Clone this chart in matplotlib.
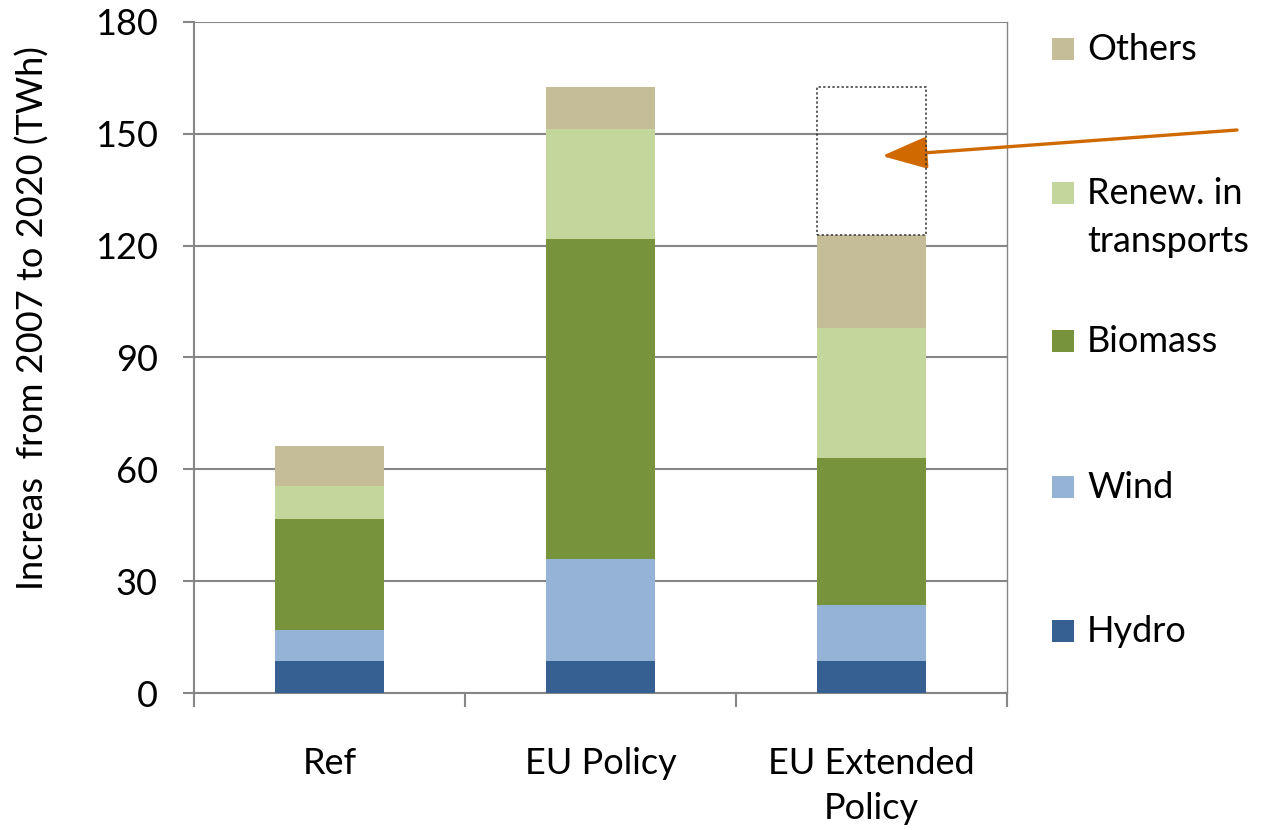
import matplotlib
matplotlib.use('Agg')
import matplotlib.pyplot as plt
from matplotlib.patches import Rectangle
import numpy as np

plt.rcParams['font.family'] = ['Lato', 'DejaVu Sans']

# data (TWh increase 2007 -> 2020)
scenarios = ['Ref', 'EU Policy', 'EU Extended\nPolicy']
hydro = [8.7, 8.7, 8.6]
wind = [8.1, 27.2, 14.9]
biomass = [29.8, 85.8, 39.5]
renew_transport = [8.9, 29.5, 35.0]
others = [10.8, 11.4, 24.8]

series_names = ['Hydro', 'Wind', 'Biomass', 'Renew. in\ntransports', 'Others']
series_colors = ['#366092', '#95B3D7', '#77933C', '#C3D69B', '#C4BD97']
y_ticks = [0, 30, 60, 90, 120, 150, 180]

GRID = '#868686'
FS = 26

fig = plt.figure(figsize=(12.64, 8.30), dpi=100)
ax = fig.add_axes([194 / 1264, 1 - 693 / 830, 813 / 1264, 671 / 830])

x = np.arange(len(scenarios))
bottom = np.zeros(len(scenarios))
for vals, name, col in zip([hydro, wind, biomass, renew_transport, others],
                           series_names, series_colors):
    ax.bar(x, vals, width=0.4, bottom=bottom, color=col, label=name, zorder=3)
    bottom += np.array(vals)

# dotted outline: gap between EU Extended Policy and EU Policy totals
gap = bottom[1] - bottom[2]
ax.bar(x[2], gap, width=0.4, bottom=bottom[2], fill=False,
       edgecolor='#333333', linestyle=(0, (1.5, 1.5)), linewidth=1.1, zorder=4)

ax.set_xlim(-0.5, 2.5)
ax.set_ylim(0, 180)
ax.set_yticks(y_ticks)
ax.yaxis.grid(True, color=GRID, linewidth=1.5, zorder=0)
ax.set_axisbelow(True)

for s in ['left', 'bottom']:
    ax.spines[s].set_color(GRID)
    ax.spines[s].set_linewidth(1.5)
ax.spines['right'].set_color(GRID)
ax.spines['right'].set_linewidth(1.0)
ax.spines['top'].set_visible(False)

ax.tick_params(axis='y', direction='out', length=8, width=1.5, color=GRID,
               labelsize=FS, pad=18)
ax.set_xticks(x)
ax.set_xticklabels(scenarios, fontsize=FS, linespacing=1.45)
ax.tick_params(axis='x', length=0, pad=39)
ax.set_xticks([-0.5, 0.5, 1.5, 2.5], minor=True)
ax.tick_params(axis='x', which='minor', direction='out', length=10,
               width=1.5, color=GRID)

ax.set_ylabel('Increas  from 2007 to 2020 (TWh)', fontsize=FS, va='center')
ax.yaxis.set_label_coords((33 - 194) / 813, (693 - 318) / 671)

# arrow pointing at the dotted box
ax.annotate('', xy=(882 / 1264, 1 - 156 / 830), xycoords='figure fraction',
            xytext=(1237 / 1264, 1 - 130 / 830), textcoords='figure fraction',
            arrowprops=dict(arrowstyle='-|>,head_length=1.4,head_width=0.5',
                            mutation_scale=20, color='#D06A00', lw=2.4,
                            shrinkA=0, shrinkB=0),
            annotation_clip=False)

# legend, drawn by hand to follow the reference spacing
legend_y = [631, 487, 341, 193, 49]
for name, col, ypx in zip(series_names, series_colors, legend_y):
    fy = 1 - ypx / 830
    fig.patches.append(Rectangle((1052 / 1264, fy - 11 / 830), 22 / 1264, 22 / 830,
                                 transform=fig.transFigure, facecolor=col,
                                 edgecolor='none'))
    lines = name.split('\n')
    fig.text(1087 / 1264, fy, lines[0], fontsize=FS, va='center', ha='left')
    if len(lines) > 1:
        fig.text(1087 / 1264, fy - 49 / 830, lines[1], fontsize=FS,
                 va='center', ha='left')

fig.savefig('out.png', dpi=100)
